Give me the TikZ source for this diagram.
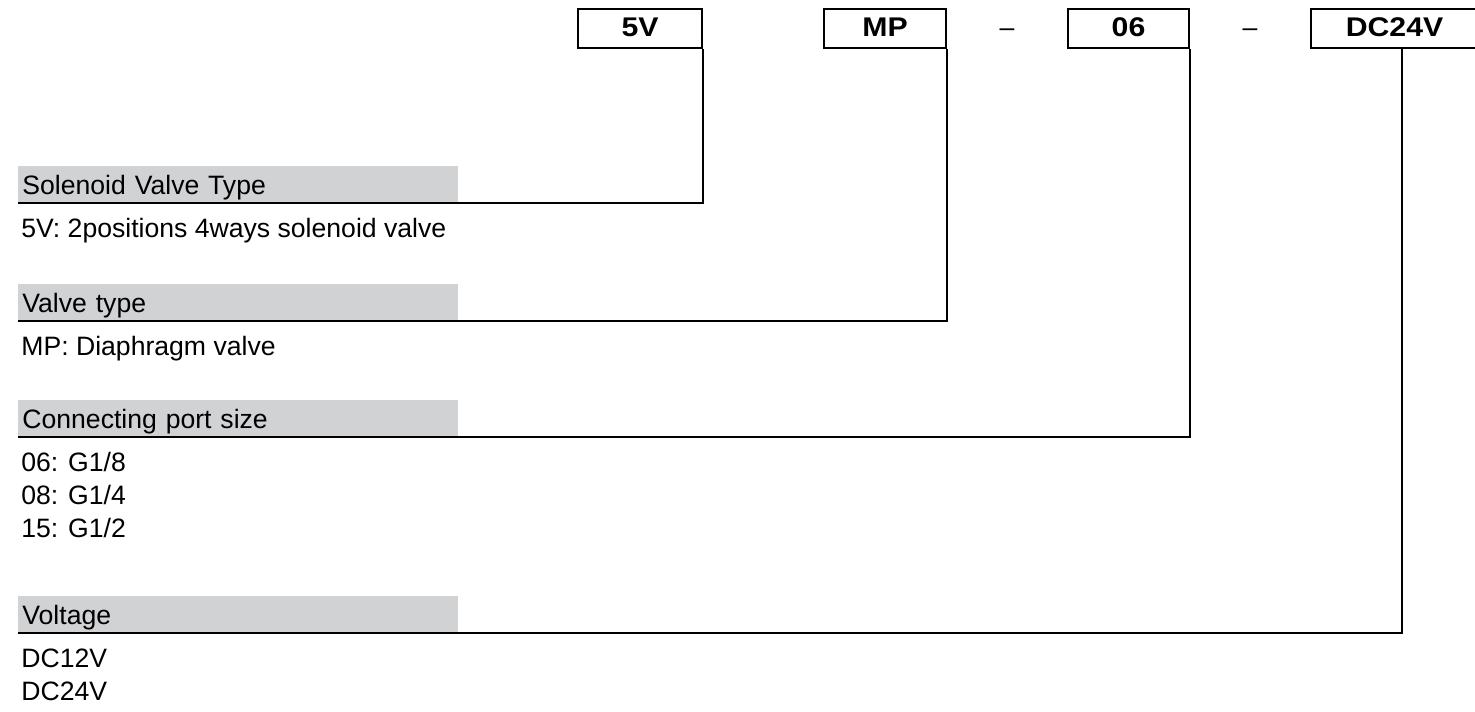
\documentclass[tikz,border=0pt]{standalone}
\usepackage{fontspec}
\setmainfont{Liberation Sans}
\newfontfamily\codefont[FakeStretch=1.12]{Liberation Sans}
\usepackage{tikz}
\usetikzlibrary{calc,positioning}
\definecolor{bargray}{RGB}{209,210,212}
\newcommand{\bodyfont}{\fontsize{13.3}{16}\selectfont}
\tikzset{
  codebox/.style={draw,line width=1pt,minimum height=19.5pt,inner sep=0pt,
                  text height=9.6pt,text depth=2pt,
                  font=\codefont\bfseries\fontsize{13.5}{14}\selectfont},
  headbar/.style={fill=bargray,anchor=south west,inner ysep=0pt,inner xsep=2pt,
                  text width=216pt,align=left,text height=14.5pt,text depth=4pt,
                  font=\bodyfont},
  lead/.style={line width=1.1pt}
}

\begin{document}
\begin{tikzpicture}[x=0.5pt,y=-0.5pt,
  desc/.style={anchor=base west,inner sep=0pt,font=\bodyfont},
  sepmark/.style={inner sep=0pt,font=\bodyfont}]
  \useasboundingbox (0,0) rectangle (1475,711);
  % order code
  \node[codebox,minimum width=62pt] (c5v) at (640,28.5) {5V};
  \node[codebox,minimum width=61pt] (cmp) at (885,28.5) {MP};
  \node[codebox,minimum width=60.5pt] (c06) at (1128.5,28.5) {06};
  \node[codebox,minimum width=83.5pt] (cdc) at (1394.5,28.5) {DC24V};
  \node[sepmark] (sep1) at (1007,33) {–};
  \node[sepmark] (sep2) at (1250,33) {–};
  % headings
  \node[headbar] (hd1) at (18,203) {Solenoid Valve Type};
  \node[headbar] (hd2) at (18,321) {Valve type};
  \node[headbar] (hd3) at (18,437) {Connecting port size};
  \node[headbar] (hd4) at (18,633) {Voltage};
  % options
  \node[desc] (d1) at ($(hd1.south west)+(3,34)$) {5V: 2positions 4ways solenoid valve};
  \node[desc] (d2) at ($(hd2.south west)+(3,34)$) {MP: Diaphragm valve};
  \node[desc] (d3a) at ($(hd3.south west)+(3,34)$) {06: G1/8};
  \node[desc] (d3b) at ($(d3a.base west)+(0,33)$) {08: G1/4};
  \node[desc] (d3c) at ($(d3b.base west)+(0,33)$) {15: G1/2};
  \node[desc] (d4a) at ($(hd4.south west)+(3,34)$) {DC12V};
  \node[desc] (d4b) at ($(d4a.base west)+(0,33)$) {DC24V};
  % leaders
  \draw[lead] (c5v.south east) |- (hd1.south west);
  \draw[lead] (cmp.south east) |- (hd2.south west);
  \draw[lead] (c06.south east) |- (hd3.south west);
  \draw[lead] ([xshift=3.75pt]cdc.south) |- (hd4.south west);
\end{tikzpicture}
\end{document}
